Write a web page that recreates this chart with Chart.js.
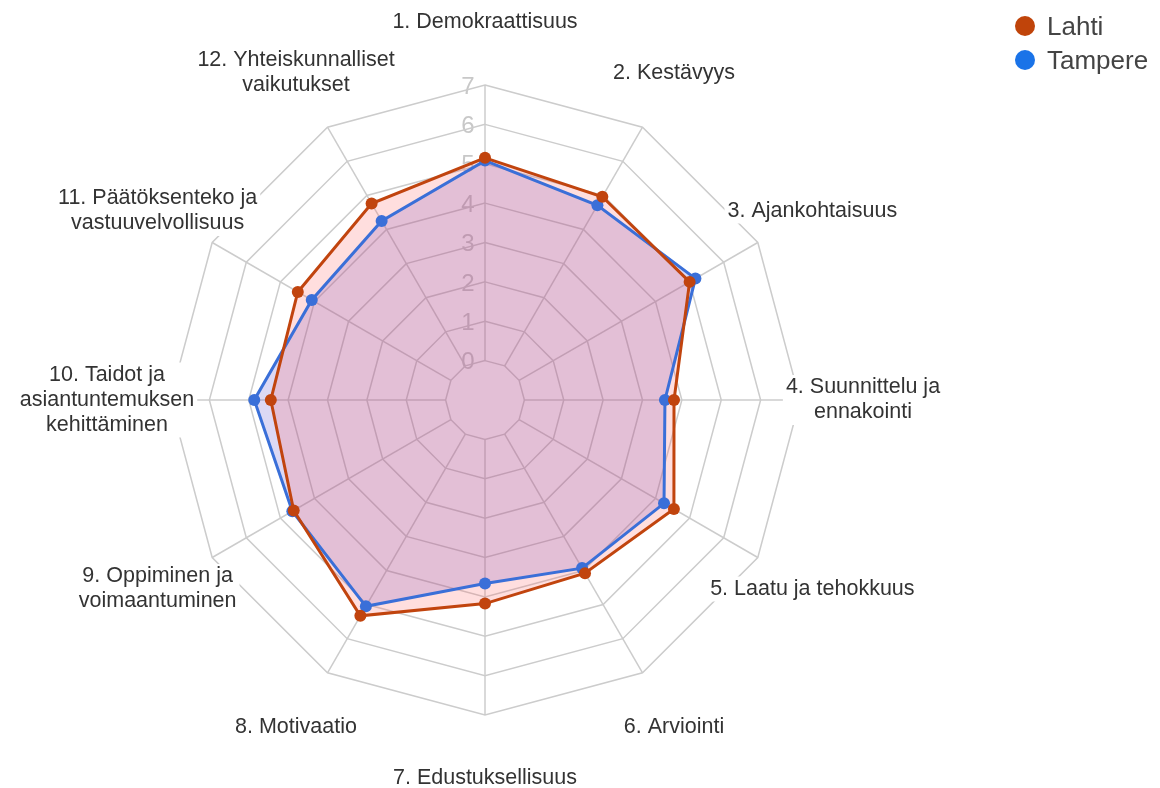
<!DOCTYPE html>
<html>
<head>
<meta charset="utf-8">
<script src="https://cdn.jsdelivr.net/npm/chart.js@4"></script>
<style>
  html, body { margin: 0; padding: 0; background: #fff; }
  #wrap { position: relative; width: 1160px; height: 788px; }
  #legend { position: absolute; left: 1015px; top: 9px; font-family: "Liberation Sans", Arial, sans-serif; font-size: 26px; color: #444; }
  .item { display: flex; align-items: center; height: 34px; }
  .dot { width: 20px; height: 20px; border-radius: 50%; margin-right: 12px; }
</style>
</head>
<body>
<div id="wrap">
  <canvas id="chart" width="1160" height="788"></canvas>
  <div id="legend"></div>
</div>
<script>
const categories = [
  '1. Demokraattisuus',
  '2. Kestävyys',
  '3. Ajankohtaisuus',
  ['4. Suunnittelu ja', 'ennakointi'],
  '5. Laatu ja tehokkuus',
  '6. Arviointi',
  '7. Edustuksellisuus',
  '8. Motivaatio',
  ['9. Oppiminen ja', 'voimaantuminen'],
  ['10. Taidot ja', 'asiantuntemuksen', 'kehittäminen'],
  ['11. Päätöksenteko ja', 'vastuuvelvollisuus'],
  ['12. Yhteiskunnalliset', 'vaikutukset']
];
const lahti = [5.15, 4.96, 5.0, 3.8, 4.54, 4.08, 4.17, 5.33, 4.61, 4.44, 4.49, 4.76];
const tampere = [5.08, 4.71, 5.17, 3.57, 4.25, 3.93, 3.66, 5.05, 4.65, 4.86, 4.08, 4.25];
const tickValues = [0, 1, 2, 3, 4, 5, 6, 7];

const series = [
  { name: 'Lahti', values: lahti, line: '#c1440e', dot: '#c0440a', fill: 'rgba(255, 90, 90, 0.2)' },
  { name: 'Tampere', values: tampere, line: '#3a6fd8', dot: '#1a73e8', fill: 'rgba(80, 60, 200, 0.2)' }
];

const FONT = '"Liberation Sans", Arial, sans-serif';

// angle lines start at the 0 ring, tick labels sit left of the top axis
const radarDecor = {
  id: 'radarDecor',
  beforeDraw(chart) {
    const scale = chart.scales.r;
    const ctx = chart.ctx;
    ctx.save();
    ctx.strokeStyle = '#cccccc';
    ctx.lineWidth = 1.5;
    categories.forEach((_, i) => {
      const a = scale.getPointPositionForValue(i, 0);
      const b = scale.getPointPositionForValue(i, scale.max);
      ctx.beginPath();
      ctx.moveTo(a.x, a.y);
      ctx.lineTo(b.x, b.y);
      ctx.stroke();
    });
    ctx.fillStyle = '#c8c8c8';
    ctx.font = '24px ' + FONT;
    ctx.textAlign = 'center';
    ctx.textBaseline = 'middle';
    tickValues.forEach(v => {
      const y = scale.yCenter - scale.getDistanceFromCenterForValue(v);
      ctx.fillText(String(v), scale.xCenter - 17, y + 2);
    });
    ctx.restore();
  },
  afterDatasetsDraw(chart) {
    const scale = chart.scales.r;
    const ctx = chart.ctx;
    const lineH = 25;
    ctx.save();
    ctx.font = '21.5px ' + FONT;
    ctx.textAlign = 'center';
    ctx.textBaseline = 'middle';
    categories.forEach((label, i) => {
      const lines = Array.isArray(label) ? label : [label];
      const p = scale.getPointPosition(i, scale.drawingArea + 63);
      const w = Math.max(...lines.map(l => ctx.measureText(l).width));
      const h = lines.length * lineH;
      ctx.fillStyle = '#ffffff';
      ctx.fillRect(p.x - w / 2 - 3, p.y - h / 2, w + 6, h);
      ctx.fillStyle = '#333333';
      lines.forEach((l, k) => ctx.fillText(l, p.x, p.y - h / 2 + lineH * (k + 0.5)));
    });
    ctx.restore();
  }
};

new Chart(document.getElementById('chart'), {
  type: 'radar',
  data: {
    labels: categories,
    datasets: series.map(s => ({
      label: s.name,
      data: s.values,
      borderColor: s.line,
      backgroundColor: s.fill,
      fill: 'start',
      borderWidth: 3,
      pointRadius: 6,
      pointBackgroundColor: s.line,
      pointBorderWidth: 0
    }))
  },
  options: {
    responsive: false,
    animation: false,
    layout: { padding: { left: 170, right: 360, top: 85, bottom: 73 } },
    plugins: {
      legend: { display: false },
      tooltip: { enabled: false },
      filler: { drawTime: 'beforeDatasetsDraw' }
    },
    elements: { line: { tension: 0 } },
    scales: {
      r: {
        min: -1,
        max: 7,
        ticks: { display: false, stepSize: 1 },
        pointLabels: { display: false },
        angleLines: { display: false },
        grid: { color: '#cccccc', lineWidth: 1.5 }
      }
    }
  },
  plugins: [radarDecor]
});

const legend = document.getElementById('legend');
series.forEach(s => {
  const row = document.createElement('div');
  row.className = 'item';
  const dot = document.createElement('span');
  dot.className = 'dot';
  dot.style.background = s.dot;
  const txt = document.createElement('span');
  txt.textContent = s.name;
  row.appendChild(dot);
  row.appendChild(txt);
  legend.appendChild(row);
});
</script>
</body>
</html>
